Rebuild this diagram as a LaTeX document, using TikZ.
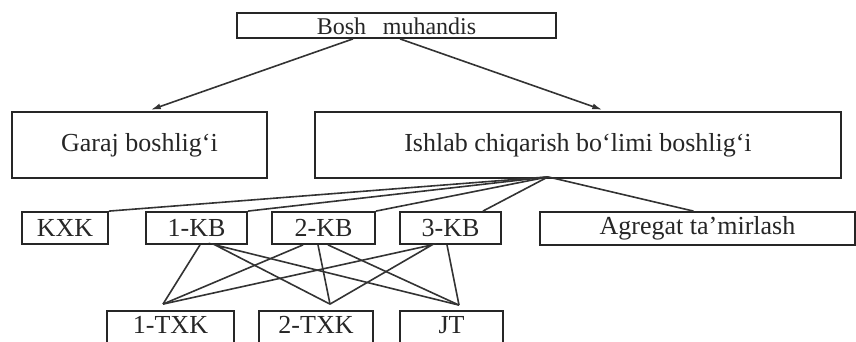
\documentclass[tikz,border=0pt]{standalone}
\usepackage{fontspec}
\setmainfont{Liberation Serif}
\usetikzlibrary{arrows.meta}
\tikzset{
  unit/.style={
    rectangle,
    draw=black!85,
    line width=0.9pt,
    inner sep=0pt,
    text=black!85,
    font=\fontsize{13}{15}\selectfont
  },
  topunit/.style={
    unit,
    font=\fontsize{12}{14}\selectfont,
    text height=9.4pt,
    text depth=0pt
  },
  lowunit/.style={
    unit,
    text depth=4pt
  },
  link/.style={
    line width=0.8pt,
    draw=black!80
  },
  order/.style={
    link,
    -{Latex[length=5pt,width=3pt]},
    shorten >=2pt
  }
}

\begin{document}
\begin{tikzpicture}[x=0.5pt,y=-0.5pt]
  % same frame as the 856x342 reference
  \useasboundingbox (0,0) rectangle (856,342);
  \clip (0,0) rectangle (856,342);

  % Head
  \node[topunit, minimum width=159.5pt, minimum height=12.5pt] (boss) at (396.5,25.5) {Bosh\hspace{0.7em}muhandis};

  % Second level
  \node[unit, minimum width=127.5pt, minimum height=33pt] (garaj) at (139.5,145) {Garaj boshlig‘i};
  \node[unit, minimum width=263pt, minimum height=33pt] (ishlab) at (578,145) {Ishlab chiqarish bo‘limi boshlig‘i};

  % Third level
  \node[unit, minimum width=43pt, minimum height=16pt] (kxk) at (65,228) {KXK};
  \node[unit, minimum width=50.5pt, minimum height=16pt] (kb1) at (196.5,228) {1-KB};
  \node[unit, minimum width=51.5pt, minimum height=16pt] (kb2) at (323.5,228) {2-KB};
  \node[unit, minimum width=50.5pt, minimum height=16pt] (kb3) at (450.5,228) {3-KB};
  \node[unit, minimum width=157.5pt, minimum height=16.5pt] (agregat) at (697.5,228.5) {Agregat ta’mirlash};

  % Bottom level
  \node[lowunit, minimum width=63.5pt, minimum height=17.5pt] (txk1) at (170.5,328.5) {1-TXK};
  \node[lowunit, minimum width=57pt, minimum height=17.5pt] (txk2) at (316,328.5) {2-TXK};
  \node[lowunit, minimum width=51.5pt, minimum height=17.5pt] (jt) at (451.5,328.5) {JT};

  \draw[order] ([xshift=-21.75pt]boss.south) -- ([xshift=3.75pt]garaj.north);
  \draw[order] ([xshift=1.75pt]boss.south) -- ([xshift=14pt]ishlab.north);

  % fan out of the production chief
  \coordinate (hub) at ([xshift=-15pt,yshift=1pt]ishlab.south);
  \foreach \t in {kxk.north east, kb1.north east, kb2.north east}
    \draw[link] (hub) -- (\t);
  \draw[link] (hub) -- ([xshift=-9.5pt]kb3.north east);
  \draw[link] (hub) -- ([xshift=-2pt]agregat.north);

  % crossing lines to the bottom row
  \coordinate (t1) at ([xshift=-3.75pt,yshift=3pt]txk1.north);
  \coordinate (t2) at ([xshift=7pt,yshift=3pt]txk2.north);
  \coordinate (t3) at ([xshift=3.75pt,yshift=2.5pt]jt.north);

  \draw[link] ([xshift=1.75pt]kb1.south) -- (t1);
  \draw[link] (t2) -- ([xshift=9.25pt]kb1.south) -- (t3);
  \draw[link] ([xshift=-10.25pt]kb2.south) -- (t1);
  \draw[link] ([xshift=-2.75pt]kb2.south) -- (t2);
  \draw[link] ([xshift=2.25pt]kb2.south) -- (t3);
  \draw[link] (t1) -- ([xshift=-9.25pt]kb3.south) -- (t2);
  \draw[link] ([xshift=-1.75pt]kb3.south) -- (t3);
\end{tikzpicture}
\end{document}
